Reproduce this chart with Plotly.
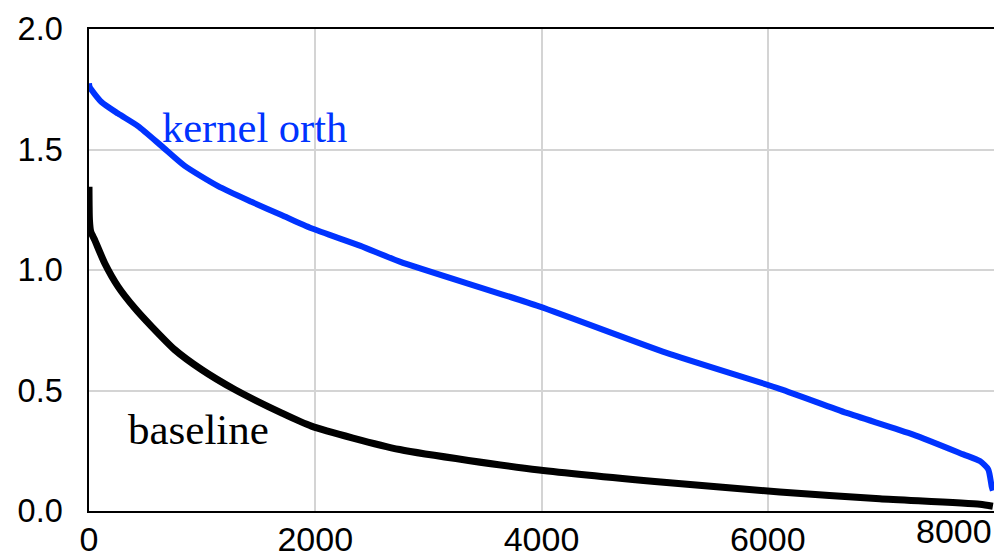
import plotly.graph_objects as go

# kernel orth (blue) curve samples
ko_x = [0, 6, 110, 257, 433, 640, 846, 1141, 1436, 1701, 1966, 2400, 2747, 3979, 5105, 6106, 6697, 7286, 7728, 7875, 7949, 7979, 7990]
ko_y = [1.775, 1.759, 1.697, 1.649, 1.597, 1.515, 1.432, 1.348, 1.283, 1.228, 1.173, 1.10, 1.035, 0.849, 0.656, 0.507, 0.407, 0.317, 0.235, 0.207, 0.173, 0.103, 0.085]

# baseline (black) curve samples
bl_x = [0, 4, 15, 50, 139, 257, 404, 552, 758, 994, 1288, 1701, 1966, 2747, 3979, 5105, 6106, 6990, 7875, 7990]
bl_y = [1.345, 1.207, 1.16, 1.125, 1.028, 0.931, 0.842, 0.766, 0.669, 0.587, 0.504, 0.407, 0.352, 0.255, 0.170, 0.118, 0.079, 0.051, 0.028, 0.02]

x_tickvals = [0, 2000, 4000, 6000, 8000]
x_ticktext = ["0", "2000", "4000", "6000", ""]
y_tickvals = [0.0, 0.5, 1.0, 1.5, 2.0]
y_ticktext = ["0.0", "0.5", "1.0", "1.5", "2.0"]

BLUE = "#0033FF"

fig = go.Figure()
fig.add_trace(go.Scatter(x=bl_x, y=bl_y, mode="lines",
                         line=dict(color="black", width=7, shape="spline", smoothing=0.6),
                         showlegend=False))
fig.add_trace(go.Scatter(x=ko_x, y=ko_y, mode="lines",
                         line=dict(color=BLUE, width=6, shape="spline", smoothing=0.6),
                         showlegend=False))

fig.add_annotation(x=625, y=1.59, xref="x", yref="y", text="kernel orth", showarrow=False,
                   xanchor="left", yanchor="middle",
                   font=dict(family="Liberation Serif", size=42.5, color=BLUE))
fig.add_annotation(x=330, y=0.338, xref="x", yref="y", text="baseline", showarrow=False,
                   xanchor="left", yanchor="middle",
                   font=dict(family="Liberation Serif", size=43, color="black"))
fig.add_annotation(x=0.956, y=0, xref="paper", yref="paper", text="8000", showarrow=False,
                   xanchor="center", yanchor="top", yshift=1,
                   font=dict(family="Liberation Sans", size=34, color="black"))

# page body has an 8px margin, so the figure is sized/offset to compensate
fig.update_layout(
    width=994, height=551,
    margin=dict(l=81, r=8, t=21, b=48, autoexpand=False),
    paper_bgcolor="white", plot_bgcolor="white",
)
fig.update_xaxes(range=[0, 8000], tickvals=x_tickvals, ticktext=x_ticktext,
                 showgrid=True, gridcolor="#d4d4d4", gridwidth=1.5,
                 showline=True, linecolor="black", linewidth=1.5, mirror=True,
                 ticks="", zeroline=False, ticklabelstandoff=-3, automargin=False,
                 tickfont=dict(family="Liberation Sans", size=34, color="black"))
fig.update_yaxes(range=[0, 2.0], tickvals=y_tickvals, ticktext=y_ticktext,
                 showgrid=True, gridcolor="#d4d4d4", gridwidth=1.5,
                 showline=True, linecolor="black", linewidth=1.5, mirror=True,
                 ticks="", zeroline=False, ticklabelstandoff=18, automargin=False,
                 tickfont=dict(family="Liberation Sans", size=32.5, color="black"))

fig.write_html("out.html")
